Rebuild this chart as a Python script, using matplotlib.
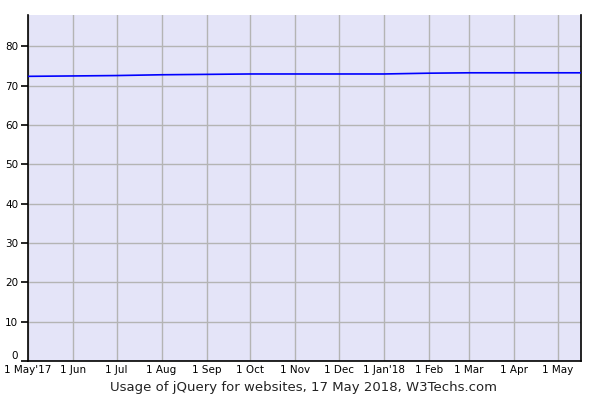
import datetime as dt
import matplotlib
matplotlib.use("Agg")
import matplotlib.pyplot as plt
import matplotlib.dates as mdates
import matplotlib.transforms as mtransforms

dates = [dt.date(2017, 5, 1), dt.date(2017, 6, 1), dt.date(2017, 7, 1), dt.date(2017, 8, 1),
         dt.date(2017, 9, 1), dt.date(2017, 10, 1), dt.date(2017, 11, 1), dt.date(2017, 12, 1),
         dt.date(2018, 1, 1), dt.date(2018, 2, 1), dt.date(2018, 3, 1), dt.date(2018, 4, 1),
         dt.date(2018, 5, 1), dt.date(2018, 5, 17)]
usage = [72.4, 72.5, 72.6, 72.8, 72.9, 73.0, 73.0, 73.0, 73.0, 73.2, 73.3, 73.3, 73.3, 73.3]

tick_dates = dates[:13]
tick_labels = ["1 May'17", "1 Jun", "1 Jul", "1 Aug", "1 Sep", "1 Oct", "1 Nov", "1 Dec",
               "1 Jan'18", "1 Feb", "1 Mar", "1 Apr", "1 May"]
y_ticks = [0, 10, 20, 30, 40, 50, 60, 70, 80]

fig = plt.figure(figsize=(6, 4), dpi=100)
ax = fig.add_axes([28 / 600, 39 / 400, 553 / 600, 346 / 400])
ax.set_facecolor("#e4e4f8")

ax.plot(dates, usage, color="#0000ff", linewidth=1.2, zorder=3)

ax.set_xlim(dates[0], dates[-1])
ax.set_ylim(0, 88)
ax.set_xticks([mdates.date2num(d) for d in tick_dates])
ax.set_xticklabels(tick_labels, fontsize=7.5)
ax.set_yticks(y_ticks)
ax.set_yticklabels([str(v) for v in y_ticks], fontsize=7.5)
ax.tick_params(axis="x", length=0, pad=3)
ax.tick_params(axis="y", length=5, width=1.2, direction="out", pad=2, colors="black")

# the "0" label sits a little higher so it clears the first date label
zero_lbl = ax.get_yticklabels()[0]
zero_lbl.set_transform(zero_lbl.get_transform() +
                       mtransforms.ScaledTranslation(0, 4 / 72, fig.dpi_scale_trans))

ax.grid(True, color="#b4b4b4", linewidth=1)
ax.set_axisbelow(True)
ax.spines["top"].set_visible(False)
for s in ["left", "bottom", "right"]:
    ax.spines[s].set_linewidth(1.2)
    ax.spines[s].set_color("black")

fig.text(304 / 600, 1 - 387 / 400, "Usage of jQuery for websites, 17 May 2018, W3Techs.com",
         ha="center", va="center", fontsize=9.5, color="#222222")

plt.savefig("out.png", dpi=100)
